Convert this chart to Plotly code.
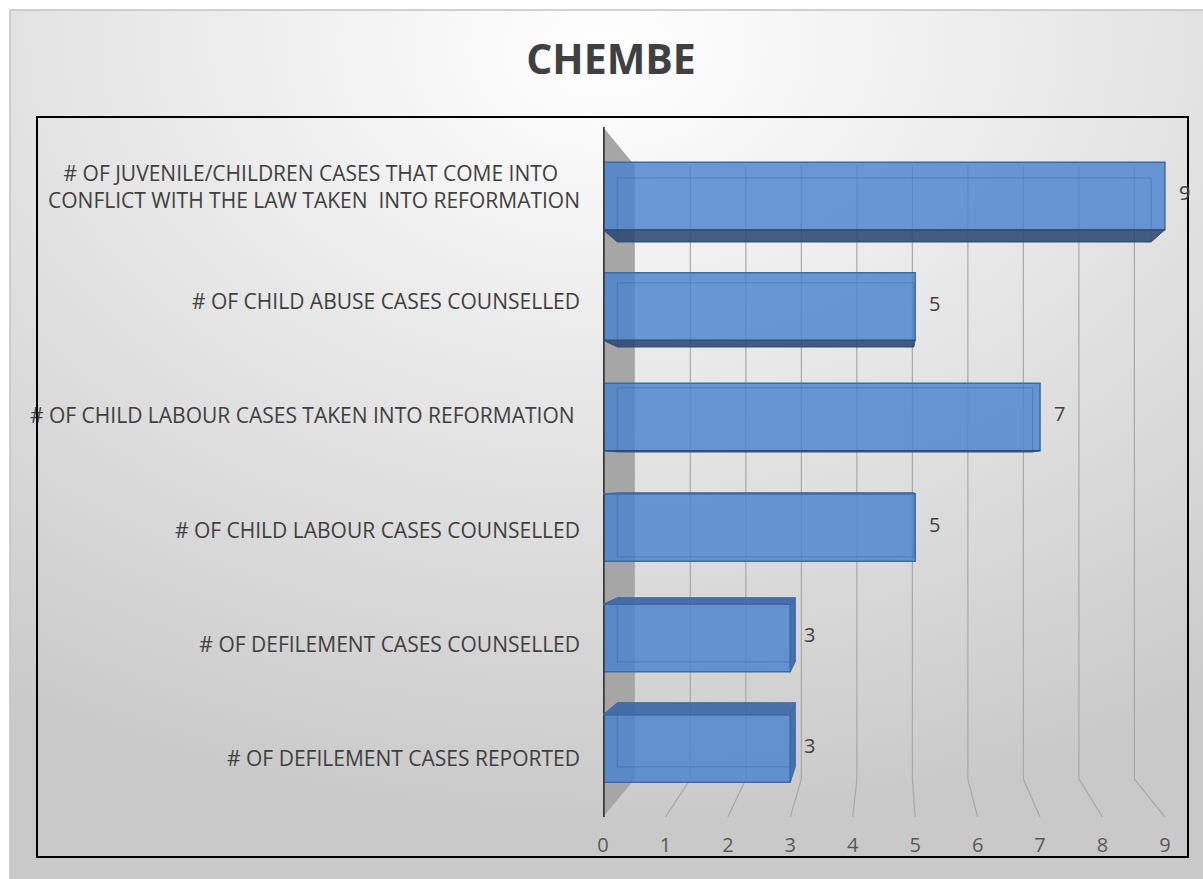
import base64
import plotly.graph_objects as go

# ---------------- data ----------------
categories = [
    "# OF DEFILEMENT CASES REPORTED",
    "# OF DEFILEMENT CASES COUNSELLED",
    "# OF CHILD LABOUR CASES COUNSELLED",
    "# OF CHILD LABOUR CASES TAKEN INTO REFORMATION\u00a0",
    "# OF CHILD ABUSE CASES COUNSELLED",
    "# OF JUVENILE/CHILDREN CASES THAT COME INTO\u00a0\u00a0\u00a0\u00a0<br>CONFLICT WITH THE LAW TAKEN  INTO REFORMATION",
]
values = [3, 3, 5, 7, 5, 9]
x_ticks = [0, 1, 2, 3, 4, 5, 6, 7, 8, 9]
title_text = "CHEMBE"

# ---------------- layout geometry ----------------
W, H = 1203, 879
L, R, T, B = 603, 15, 127, 62           # plot area: x 603..1188, y 127..817
PW, PH = W - L - R, H - T - B
X_RANGE = [0, 9.37]
Y_RANGE = [-0.62, 5.624]
Y2_RANGE = [-0.507, 5.524]
BAR_W = 0.61
VX, VY = 4.596, 2.475                    # vanishing point (data units)
A_BAR, A_WALL = 0.05, 0.111

def px2paper_x(px):
    return (px - L) / PW

def px2paper_y(py):
    return (H - B - py) / PH

def persp(x, y, a):
    return x + a * (VX - x), y + a * (VY - y)

def path(pts):
    return "M " + " L ".join(f"{x},{y}" for x, y in pts) + " Z"

ypos = list(range(len(values)))

fig = go.Figure()

# background gradient (svg data uri)
svg = f"""<svg xmlns='http://www.w3.org/2000/svg' width='{W-10}' height='{H-10}'>
<defs><radialGradient id='g' cx='50%' cy='0%' r='95%' fx='50%' fy='5%'>
<stop offset='0%' stop-color='#ffffff'/>
<stop offset='35%' stop-color='#ececec'/>
<stop offset='100%' stop-color='#c9c9c9'/>
</radialGradient></defs>
<rect width='100%' height='100%' fill='url(#g)'/>
</svg>"""
src = "data:image/svg+xml;base64," + base64.b64encode(svg.encode()).decode()
fig.add_layout_image(dict(
    source=src, xref="paper", yref="paper",
    x=px2paper_x(10), y=px2paper_y(10),
    sizex=(W - 10) / PW, sizey=(H - 10) / PH,
    xanchor="left", yanchor="top", sizing="stretch", layer="below",
))

shapes = []
# outer thin border
shapes.append(dict(type="rect", xref="paper", yref="paper",
                   x0=px2paper_x(10), x1=px2paper_x(W + 5),
                   y0=px2paper_y(10), y1=px2paper_y(H + 5),
                   line=dict(color="#c4c4c4", width=1.5), layer="below"))

# left wall (grey side)
y_top, y_bot = Y_RANGE[1], Y_RANGE[0]
wt = persp(0, y_top, A_WALL)
wb = persp(0, y_bot, A_WALL)
shapes.append(dict(type="path", xref="x", yref="y", layer="below",
                   path=path([(0, y_top), wt, wb, (0, y_bot)]),
                   fillcolor="#a6a6a6", line=dict(width=0)))

# gridlines on back wall + floor
for v in x_ticks[1:]:
    bt = persp(v, y_top, A_WALL)
    bb = persp(v, y_bot, A_WALL)
    shapes.append(dict(type="path", xref="x", yref="y", layer="below",
                       path=f"M {bt[0]},{bt[1]} L {bb[0]},{bb[1]} L {v},{y_bot}",
                       line=dict(color="#a8a8a8", width=1.2)))

# axis line (front edge of wall)
shapes.append(dict(type="line", xref="x", yref="y", x0=0, x1=0, y0=y_bot, y1=y_top,
                   line=dict(color="#3a3a3a", width=3.5), layer="above"))

# main bars
fig.add_trace(go.Bar(
    x=values, y=ypos, orientation="h", width=BAR_W,
    marker=dict(color="rgba(74,130,206,0.82)",
                line=dict(color="#3d6aa6", width=1.5)),
    hoverinfo="skip", showlegend=False,
))

# 3-D faces of each bar
for v, c in zip(values, ypos):
    y0, y1 = c - BAR_W / 2, c + BAR_W / 2
    F = [(0, y1), (v, y1), (v, y0), (0, y0)]          # TL, TR, BR, BL
    Bk = [persp(x, y, A_BAR) for x, y in F]
    # back outline (seen through transparency)
    shapes.append(dict(type="path", xref="x", yref="y", layer="above",
                       path=path(Bk), line=dict(color="rgba(40,75,130,0.3)", width=1)))
    if y0 > VY:   # bottom face visible
        shapes.append(dict(type="path", xref="x", yref="y", layer="above",
                           path=path([F[3], F[2], Bk[2], Bk[3]]),
                           fillcolor="rgba(44,72,112,0.88)",
                           line=dict(color="#2f4f7c", width=1)))
    if y1 < VY:   # top face visible
        shapes.append(dict(type="path", xref="x", yref="y", layer="above",
                           path=path([F[0], F[1], Bk[1], Bk[0]]),
                           fillcolor="rgba(60,104,168,0.92)",
                           line=dict(color="#3d6aa6", width=1)))
    if v < VX:    # right face visible
        shapes.append(dict(type="path", xref="x", yref="y", layer="above",
                           path=path([F[1], Bk[1], Bk[2], F[2]]),
                           fillcolor="rgba(60,104,168,0.92)",
                           line=dict(color="#3d6aa6", width=1)))

# inner chart frame
shapes.append(dict(type="rect", xref="paper", yref="paper",
                   x0=px2paper_x(37), x1=px2paper_x(1188),
                   y0=px2paper_y(857), y1=px2paper_y(117),
                   line=dict(color="#000000", width=2), layer="above"))

# data labels
annotations = []
for v, c in zip(values, ypos):
    annotations.append(dict(x=v, y=c, xref="x", yref="y", text=str(v),
                            showarrow=False, xanchor="left", yanchor="middle",
                            xshift=12, yshift=3,
                            font=dict(family="Open Sans", size=20, color="#404040")))

# invisible trace to hold the label axis
fig.add_trace(go.Scatter(x=[0], y=[0], yaxis="y2", mode="markers",
                         marker=dict(opacity=0), hoverinfo="skip", showlegend=False))

fig.update_layout(
    width=W, height=H,
    margin=dict(l=L, r=R, t=T, b=B, pad=0),
    paper_bgcolor="#ffffff", plot_bgcolor="rgba(0,0,0,0)",
    title=dict(text=f"<b>{title_text}</b>", x=611 / W, xanchor="center",
               y=1 - 60 / H, yanchor="middle",
               font=dict(family="Open Sans", size=41, color="#404040")),
    xaxis=dict(range=X_RANGE, tickvals=x_ticks, showgrid=False, zeroline=False,
               showline=False, ticks="", ticklabelstandoff=14,
               tickfont=dict(family="Open Sans", size=20, color="#595959"),
               fixedrange=True),
    yaxis=dict(range=Y_RANGE, showticklabels=False, showgrid=False, zeroline=False,
               showline=False, ticks="", fixedrange=True),
    yaxis2=dict(range=Y2_RANGE, overlaying="y", side="left", tickvals=ypos,
                ticktext=categories, showgrid=False, zeroline=False, showline=False,
                ticks="", ticklabelstandoff=22,
                tickfont=dict(family="Open Sans", size=21, color="#404040"),
                fixedrange=True),
    shapes=shapes, annotations=annotations,
    bargap=0.3,
)

fig.write_html("out.html")
